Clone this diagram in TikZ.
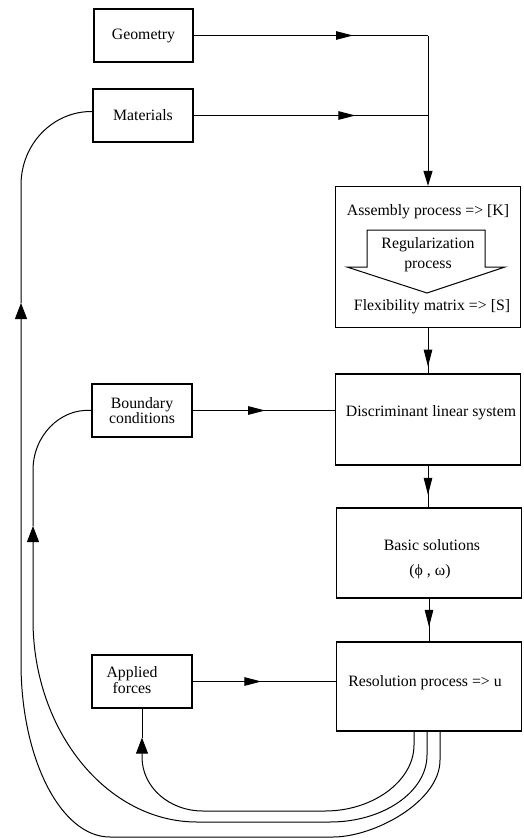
\documentclass[tikz,border=0pt]{standalone}
\usepackage{fontspec}
\setmainfont{Liberation Serif}
\usetikzlibrary{arrows.meta,decorations.markings}
\tikzset{
  inbox/.style={draw, line width=1.3pt, minimum width=100pt, minimum height=53pt, inner sep=0pt},
  procbox/.style={draw, line width=1.3pt, minimum width=185pt, inner sep=0pt},
  link/.style={line width=1pt},
  flow/.style={link, -{Triangle[length=15pt,width=9pt]}},
  back/.style={link, -{Triangle[length=16pt,width=12pt]}},
  midtip/.style={link, postaction={decorate},
    decoration={markings, mark=at position #1 with {\arrow{Triangle[length=17pt,width=8.5pt]}}}},
}
\begin{document}
\begin{tikzpicture}[x=1pt, y=-1pt, font=\fontsize{15.8pt}{18pt}\selectfont]
  \useasboundingbox (0,0) rectangle (523,838);
  % input boxes
  \node[inbox, minimum width=99pt] (geo) at (143.5,35.5) {Geometry};
  \node[inbox] (mat) at (143,115.5) {Materials};
  \node[inbox, align=center, font=\fontsize{15.8pt}{14pt}\selectfont] (bnd) at (142,410.5) {Boundary\\conditions};
  \node[inbox] (app) at (142,681.5) {};
  \node[align=center, font=\fontsize{15.8pt}{14pt}\selectfont] (apptxt) at (132,680) {Applied\\forces};
  % process boxes
  \node[procbox, minimum height=141pt] (asm) at (428,257) {};
  \node (asmtxt) at (428,212) {Assembly process => [K]};
  \draw[line width=1pt] (367,230) -- (485,230) -- (485,267) -- (505,267) -- (427,293)
    -- (347,267) -- (367,267) -- cycle;
  \node[align=center, font=\fontsize{15.8pt}{20pt}\selectfont] (regtxt) at (428,255) {Regularization\\process};
  \node (flextxt) at (432,307) {Flexibility matrix => [S]};
  \node[procbox, minimum height=91pt] (disc) at (428,419.5) {};
  \node (disctxt) at (431,413) {Discriminant linear system};
  \node[procbox, minimum height=90pt] (basic) at (429,553) {};
  \node (basictxt) at (432,545) {Basic solutions};
  \node (phitxt) at (430,572) {(ϕ , ω)};
  \node[procbox, minimum height=89pt] (res) at (429,686.5) {};
  \node (restxt) at (425,683) {Resolution process => u};
  % forward flow
  \coordinate (gcorner) at (geo.east -| asm.north);
  \coordinate (mcorner) at (mat.east -| asm.north);
  \draw[midtip=0.68] (geo.east) -- (gcorner);
  \draw[midtip=0.69] (mat.east) -- (mcorner);
  \draw[flow] (gcorner) -- (asm.north);
  \draw[midtip=0.85] (asm.south) -- (disc.north);
  \draw[midtip=0.7] (disc.south) -- (disc.south |- basic.north);
  \draw[midtip=0.66] (basic.south) -- (basic.south |- res.north);
  \draw[midtip=0.51] (bnd.east) -- (bnd.east -| disc.west);
  \draw[midtip=0.48] (app.east) -- (app.east -| res.west);
  % feedback loops
  \coordinate (appin) at ([yshift=-29pt]app.south);
  \coordinate (bndin) at (33,526);
  \coordinate (matin) at (21,303);
  \draw[back] ([xshift=-15pt]res.south) -- (414,745) .. controls (414,781) and (373,811) .. (325,811)
    -- (203,811) .. controls (169,811) and (142,787) .. (142,757) -- (appin);
  \draw[link] (appin) -- (app.south);
  \draw[back] ([xshift=-2pt]res.south) -- (427,755) .. controls (427,792) and (383,822) .. (330,822)
    -- (197,822) .. controls (107,822) and (33,731) .. (33,620) -- (bndin);
  \draw[link] (bndin) -- (33,470) .. controls (33,436) and (60,408) .. (bnd.west);
  \draw[back] ([xshift=11pt]res.south) -- (440,760) .. controls (440,802) and (374,837) .. (333,837)
    -- (110,837) .. controls (61,837) and (21,759) .. (21,663) -- (matin);
  \draw[link] (matin) -- (21,185) .. controls (21,144) and (53,111) .. ([yshift=4pt]mat.west);
\end{tikzpicture}
\end{document}
